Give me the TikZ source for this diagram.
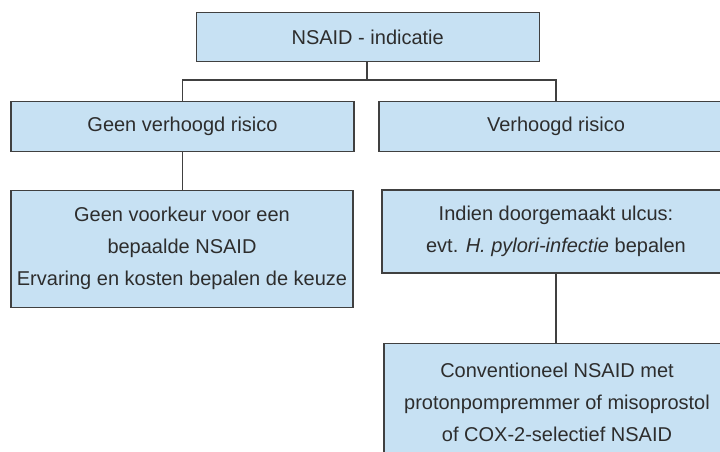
\documentclass[tikz,border=0pt]{standalone}
\usepackage{fontspec}
\setmainfont{Liberation Sans}
\definecolor{boxfill}{RGB}{199,225,243}
\definecolor{boxline}{RGB}{64,64,64}
\definecolor{txtcol}{RGB}{45,45,45}
\begin{document}
\begin{tikzpicture}[x=1pt,y=-1pt,
  box/.style={draw=boxline, fill=boxfill, line width=1.3pt, inner sep=0pt, text=txtcol,
    font=\fontsize{20}{32}\selectfont, align=center},
  conn/.style={draw=boxline, line width=1.2pt}]
\useasboundingbox (0,0) rectangle (720,452);
\begin{scope}
\clip (0,0) rectangle (720,452);
\node[box, minimum width=343pt, minimum height=49pt] (top) at (367.7,37.2) {NSAID - indicatie};
\node[box, minimum width=343pt, minimum height=49.5pt] (left) at (182.5,126.4) {Geen verhoogd risico};
\node[box, minimum width=354pt, minimum height=49.5pt] (right) at (556,126.4) {Verhoogd risico};
\node[box, minimum width=342pt, minimum height=117pt] (leftlow) at (182,248.8)
  {Geen voorkeur voor een\\bepaalde NSAID\\Ervaring en kosten bepalen de keuze};
\node[box, minimum width=348pt, minimum height=83pt] (rightlow) at (556,231.5)
  {Indien doorgemaakt ulcus:\\evt. \textit{H. pylori-infectie} bepalen};
\node[box, minimum width=346pt, minimum height=118pt, anchor=north] (bottom) at (557,343)
  {Conventioneel NSAID met\\protonpompremmer of misoprostol\\of COX-2-selectief NSAID};
\coordinate (split) at (367,80);
\draw[conn] (top.south -| split) -- (split);
\draw[conn] (left.north) |- (split) -| (right.north);
\draw[conn] (left.south) -- (leftlow.north -| left);
\draw[conn] (rightlow.south) -- (bottom.north -| rightlow);
\end{scope}
\end{tikzpicture}
\end{document}
